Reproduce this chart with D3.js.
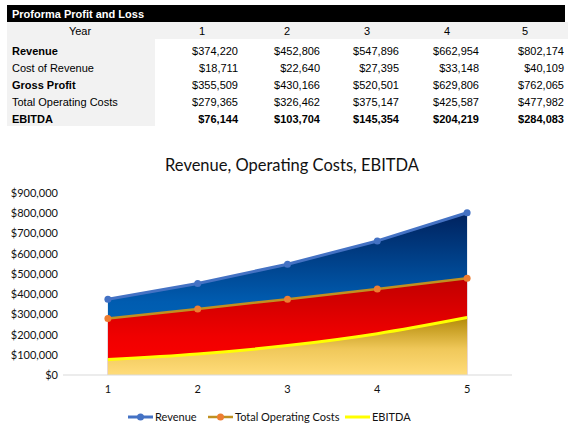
<!DOCTYPE html>
<html>
<head>
<meta charset="utf-8">
<script src="https://cdn.jsdelivr.net/npm/d3@7"></script>
<style>
  body { margin: 0; background: #fff; }
  svg { display: block; }
</style>
</head>
<body>
<svg id="chart" width="579" height="440"></svg>
<script>
const years = [1, 2, 3, 4, 5];
const revenue = [374220, 452806, 547896, 662954, 802174];
const costOfRevenue = [18711, 22640, 27395, 33148, 40109];
const grossProfit = [355509, 430166, 520501, 629806, 762065];
const totalOpCosts = [279365, 326462, 375147, 425587, 477982];
const ebitda = [76144, 103704, 145354, 204219, 284083];
const yTicks = [0, 100000, 200000, 300000, 400000, 500000, 600000, 700000, 800000, 900000];

const tableRows = [
  { label: "Revenue", values: revenue, boldLabel: true, boldValues: false },
  { label: "Cost of Revenue", values: costOfRevenue, boldLabel: false, boldValues: false },
  { label: "Gross Profit", values: grossProfit, boldLabel: true, boldValues: false },
  { label: "Total Operating Costs", values: totalOpCosts, boldLabel: false, boldValues: false },
  { label: "EBITDA", values: ebitda, boldLabel: true, boldValues: true }
];

const svg = d3.select("#chart");
const money = d3.format("$,.0f");
const tableFont = "'Liberation Sans', Arial, sans-serif";
const chartFont = "Lato, 'Open Sans', sans-serif";

// ---- table ----
const table = svg.append("g").attr("font-family", tableFont).attr("font-size", 11);

table.append("rect").attr("x", 7).attr("y", 5).attr("width", 558).attr("height", 17).attr("fill", "#000");
table.append("text").attr("x", 12).attr("y", 17.5)
  .attr("fill", "#fff").attr("font-weight", "bold").text("Proforma Profit and Loss");

table.append("rect").attr("x", 7).attr("y", 22).attr("width", 561).attr("height", 17).attr("fill", "#f2f2f2");
table.append("rect").attr("x", 7).attr("y", 39).attr("width", 148).attr("height", 87).attr("fill", "#f2f2f2");

const headerX = d3.scaleOrdinal().domain(years).range([202, 287, 367, 447, 525]);
const valueRight = d3.scaleOrdinal().domain(years).range([238, 320, 399, 479, 564]);
const rowY = d3.scaleBand().domain(tableRows.map(d => d.label)).range([42, 127]);

table.append("text").attr("x", 80).attr("y", 35).attr("text-anchor", "middle").text("Year");
table.selectAll(".yr").data(years).join("text")
  .attr("x", d => headerX(d)).attr("y", 35).attr("text-anchor", "middle").text(d => d);

const rowG = table.selectAll(".row").data(tableRows).join("g")
  .attr("transform", d => `translate(0,${rowY(d.label) + rowY.bandwidth() / 2 + 4})`);
rowG.append("text").attr("x", 12)
  .attr("font-weight", d => d.boldLabel ? "bold" : "normal").text(d => d.label);
rowG.each(function(row) {
  d3.select(this).selectAll(".v").data(row.values).join("text")
    .attr("x", (v, i) => valueRight(years[i]))
    .attr("text-anchor", "end")
    .attr("font-weight", row.boldValues ? "bold" : "normal")
    .text(v => money(v));
});

// ---- chart ----
const x = d3.scaleBand().domain(years).range([63, 512]);
const y = d3.scaleLinear().domain([0, 900000]).range([375, 193]);
const cx = d => x(d) + x.bandwidth() / 2;

const defs = svg.append("defs");
function grad(id, stops) {
  const g = defs.append("linearGradient").attr("id", id)
    .attr("x1", 0).attr("y1", 0).attr("x2", 0).attr("y2", 1);
  stops.forEach(s => g.append("stop").attr("offset", s[0]).attr("stop-color", s[1]));
}
grad("gRev", [[0, "#00225e"], [0.55, "#005cb0"], [1, "#0070c0"]]);
grad("gCost", [[0, "#c00000"], [0.6, "#f00000"], [1, "#ff0000"]]);
grad("gEb", [[0, "#b38a08"], [0.55, "#f0c85a"], [1, "#ffdc7a"]]);

svg.append("text").attr("x", 292).attr("y", 171).attr("text-anchor", "middle")
  .attr("font-family", chartFont).attr("font-size", 16.5).attr("fill", "#111")
  .text("Revenue, Operating Costs, EBITDA");

const series = [
  { name: "Revenue", values: revenue, fill: "url(#gRev)", line: "#4472c4", marker: "#4472c4", width: 3, curve: d3.curveLinear },
  { name: "Total Operating Costs", values: totalOpCosts, fill: "url(#gCost)", line: "#c09020", marker: "#ed7d31", width: 2.5, curve: d3.curveLinear },
  { name: "EBITDA", values: ebitda, fill: "url(#gEb)", line: "#ffff00", marker: null, width: 3, curve: d3.curveMonotoneX }
];

series.forEach(s => {
  const pts = s.values.map((v, i) => [cx(years[i]), y(v)]);
  svg.append("path")
    .attr("d", d3.area().x(d => d[0]).y0(y(0)).y1(d => d[1]).curve(s.curve)(pts))
    .attr("fill", s.fill);
});

svg.append("line").attr("x1", 63).attr("x2", 512).attr("y1", y(0)).attr("y2", y(0))
  .attr("stroke", "#d9d9d9").attr("stroke-width", 1);

series.forEach(s => {
  const pts = s.values.map((v, i) => [cx(years[i]), y(v)]);
  svg.append("path")
    .attr("d", d3.line().curve(s.curve)(pts))
    .attr("fill", "none").attr("stroke", s.line).attr("stroke-width", s.width)
    .attr("stroke-linejoin", "round");
  if (s.marker) {
    svg.selectAll(null).data(pts).join("circle")
      .attr("cx", d => d[0]).attr("cy", d => d[1]).attr("r", 3.5).attr("fill", s.marker);
  }
});

// axes
const yAxis = svg.append("g").attr("transform", "translate(63,0)")
  .call(d3.axisLeft(y).tickValues(yTicks).tickSize(0).tickPadding(5).tickFormat(money));
yAxis.select(".domain").remove();
const xAxis = svg.append("g").attr("transform", `translate(0,${y(0)})`)
  .call(d3.axisBottom(x).tickSize(0).tickPadding(10));
xAxis.select(".domain").remove();
svg.selectAll(".tick text").attr("font-family", chartFont).attr("font-size", 11).attr("fill", "#111");

// legend
const legendX = [128, 208, 345];
const legend = svg.append("g").attr("font-family", chartFont).attr("font-size", 11);
series.forEach((s, i) => {
  const g = legend.append("g").attr("transform", `translate(${legendX[i]},417)`);
  g.append("line").attr("x1", 0).attr("x2", 25).attr("stroke", s.line).attr("stroke-width", s.width);
  if (s.marker) g.append("circle").attr("cx", 12.5).attr("r", 3.5).attr("fill", s.marker);
  g.append("text").attr("x", 27).attr("y", 4).attr("fill", "#111").text(s.name);
});
</script>
</body>
</html>
